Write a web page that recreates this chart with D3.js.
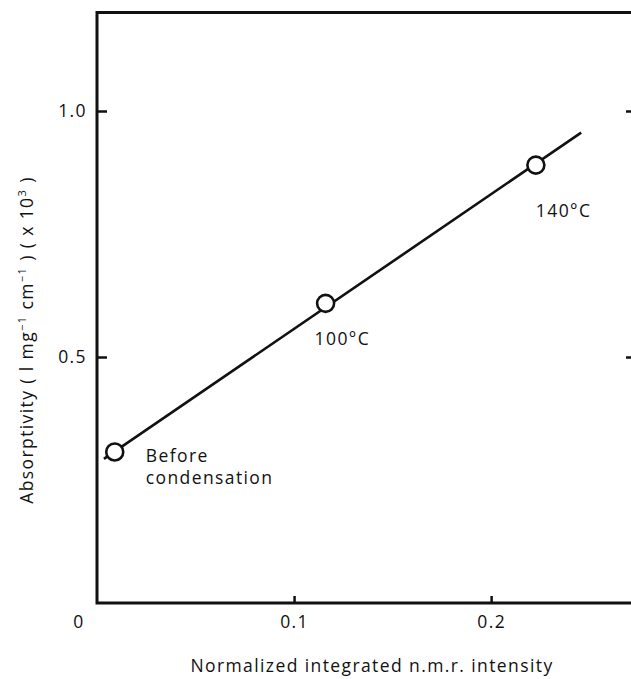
<!DOCTYPE html>
<html><head><meta charset="utf-8">
<script src="https://cdn.jsdelivr.net/npm/d3@7/dist/d3.min.js"></script>
<style>body{margin:0;background:#fff}svg{display:block}text{font-family:"Open Sans","DejaVu Sans",sans-serif;fill:#111;letter-spacing:1.4px}</style>
</head><body><svg id="c" width="631" height="679"></svg>
<script>
const pointX = [0.009, 0.116, 0.2227];
const pointY = [0.307, 0.609, 0.890];
const pointLabels = [["Before","condensation"],["100°C"],["140°C"]];
const fitLineX = [0.0035, 0.2457];
const fitLineY = [0.293, 0.956];
const xTicks = [0.1, 0.2];
const xTickLabels = ["0.1", "0.2"];
const yTicks = [0.5, 1.0];
const yTickLabels = ["0.5", "1.0"];

const svg = d3.select("#c");
const x = d3.scaleLinear().domain([0, 0.2725]).range([97, 634]);
const y = d3.scaleLinear().domain([0, 1.2]).range([603, 12.6]);
const ink = "#111";
const fs = 17.5;

// frame
svg.append("path")
  .attr("d", `M${x(0.2725)},${y(1.2)} H${x(0)} V${y(0)} H${x(0.2725)}`)
  .attr("fill","none").attr("stroke",ink).attr("stroke-width",3);

// x ticks (inward)
const xAxis = d3.axisBottom(x).tickValues(xTicks).tickSize(-7).tickFormat((d,i)=>xTickLabels[i]);
const gx = svg.append("g").attr("transform",`translate(0,${y(0)})`).call(xAxis);
gx.select(".domain").remove();
gx.selectAll("line").attr("stroke",ink).attr("stroke-width",2.5);
gx.selectAll("text").attr("font-size",fs).attr("fill",ink).attr("y",25).attr("dy",0);
svg.append("text").attr("x",79).attr("y",628).attr("text-anchor","middle").attr("font-size",fs).text("0");

// y ticks left inward
const yAxis = d3.axisLeft(y).tickValues(yTicks).tickSize(-10).tickFormat((d,i)=>yTickLabels[i]).tickPadding(10);
const gy = svg.append("g").attr("transform",`translate(${x(0)},0)`).call(yAxis);
gy.select(".domain").remove();
gy.selectAll("line").attr("stroke",ink).attr("stroke-width",2.5);
gy.selectAll("text").attr("font-size",fs).attr("fill",ink);

// right axis ticks inward
const yAxisR = d3.axisRight(y).tickValues(yTicks).tickSize(-8).tickFormat("");
const gr = svg.append("g").attr("transform",`translate(${x(0.2725)},0)`).call(yAxisR);
gr.select(".domain").remove();
gr.selectAll("line").attr("stroke",ink).attr("stroke-width",2.5);

// fit line
svg.append("line")
  .attr("x1",x(fitLineX[0])).attr("y1",y(fitLineY[0]))
  .attr("x2",x(fitLineX[1])).attr("y2",y(fitLineY[1]))
  .attr("stroke",ink).attr("stroke-width",2.6);

// points
const pts = pointX.map((v,i)=>({x:v,y:pointY[i],l:pointLabels[i]}));
svg.selectAll("circle.p").data(pts).join("circle")
  .attr("cx",d=>x(d.x)).attr("cy",d=>y(d.y)).attr("r",8.5)
  .attr("fill","#fff").attr("stroke",ink).attr("stroke-width",2.6);

// point labels (one text per line)
const offs = [[31,10],[-11,42],[0,52]];
pts.forEach((d,i)=>{
  d.l.forEach((s,j)=>svg.append("text").attr("font-size",fs).attr("text-anchor","start")
    .attr("x",x(d.x)+offs[i][0]).attr("y",y(d.y)+offs[i][1]+j*22).text(s));
});

// axis titles
svg.append("text").attr("x",372).attr("y",672).attr("text-anchor","middle").attr("font-size",fs)
  .text("Normalized integrated n.m.r. intensity");
const yt = svg.append("text").attr("transform","translate(33,340) rotate(-90)").attr("text-anchor","middle").attr("font-size",fs);
yt.append("tspan").text("Absorptivity ( l mg");
yt.append("tspan").attr("font-size",11).attr("dy",-7).text("−1");
yt.append("tspan").attr("dy",7).text(" cm");
yt.append("tspan").attr("font-size",11).attr("dy",-7).text("−1");
yt.append("tspan").attr("dy",7).text(" ) ( x 10");
yt.append("tspan").attr("font-size",11).attr("dy",-7).text("3");
yt.append("tspan").attr("dy",7).text(" )");
</script></body></html>
